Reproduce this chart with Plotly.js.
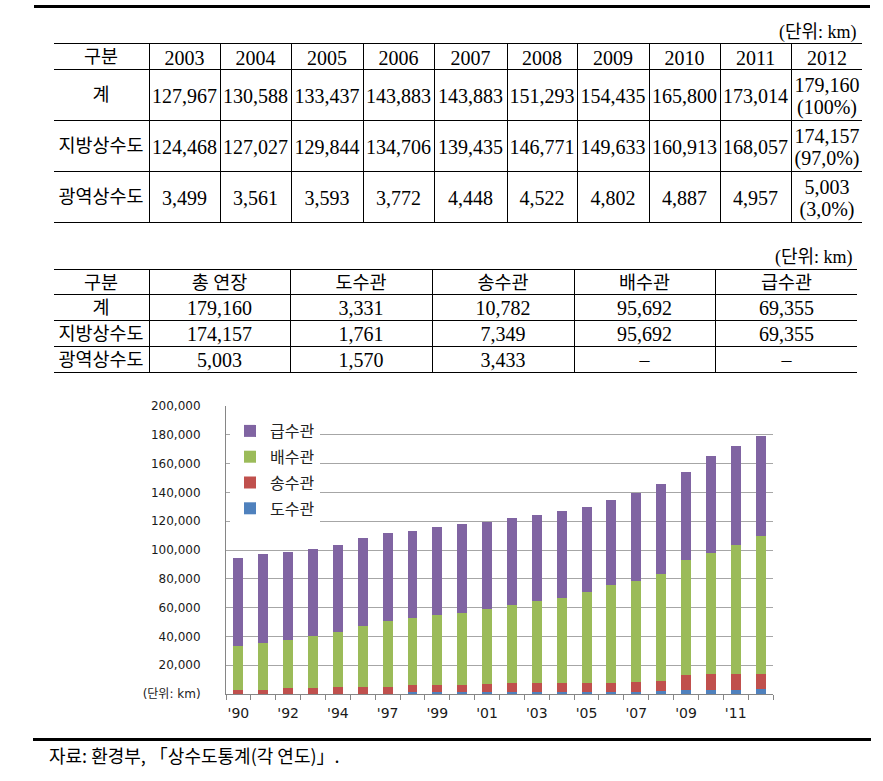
<!DOCTYPE html>
<html>
<head>
<meta charset="utf-8">
<script src="https://cdn.plot.ly/plotly-3.0.1.min.js"></script>
<style>
  html, body { margin: 0; padding: 0; background: #fff; }
  #chart { width: 883px; height: 781px; }
</style>
</head>
<body>
<div id="chart"></div>
<script>
// 표 1: 연도별 상수관로 연장 (단위: km)
const years1 = ['2003', '2004', '2005', '2006', '2007', '2008', '2009', '2010', '2011', '2012'];
const rowNames = ['계', '지방상수도', '광역상수도'];
const total1 = [127967, 130588, 133437, 143883, 143883, 151293, 154435, 165800, 173014, 179160];
const local1 = [124468, 127027, 129844, 134706, 139435, 146771, 149633, 160913, 168057, 174157];
const wide1 = [3499, 3561, 3593, 3772, 4448, 4522, 4802, 4887, 4957, 5003];
const share2012 = ['(100%)', '(97,0%)', '(3,0%)'];

// 표 2: 2012년 관종별 연장 (단위: km)
const pipes2 = ['총\u00a0연장', '도수관', '송수관', '배수관', '급수관'];
const total2 = [179160, 3331, 10782, 95692, 69355];
const local2 = [174157, 1761, 7349, 95692, 69355];
const wide2 = [5003, 1570, 3433, null, null];

// 그래프: 연도별 관종별 연장 (누적)
const years = ['1990', '1991', '1992', '1993', '1994', '1995', '1997', '1998', '1999', '2000', '2001',
               '2002', '2003', '2004', '2005', '2006', '2007', '2008', '2009', '2010', '2011', '2012'];
const yearLabels = ["'90", '', "'92", '', "'94", '', "'97", '', "'99", '', "'01",
                    '', "'03", '', "'05", '', "'07", '', "'09", '', "'11", ''];
const intake = [0, 0, 0, 0, 0, 0, 0, 1160, 1160, 1160, 1160,
                1160, 1160, 1160, 1160, 1160, 1160, 1850, 3010, 3010, 3010, 3331];
const transmission = [3100, 3100, 3940, 3940, 4630, 5100, 5100, 4880, 4880, 4860, 5560,
                      6250, 6250, 6250, 6250, 6720, 7180, 7190, 9960, 10660, 10660, 10782];
const distribution = [30400, 32260, 33510, 36300, 38400, 42120, 45370, 46530, 48620, 50050, 52130,
                      54220, 57000, 59090, 63720, 67650, 69970, 74370, 79940, 84110, 89670, 95692];
const service = [61150, 61640, 61400, 60710, 60710, 61400, 61180, 60940, 61410, 61870, 60940,
                 60470, 59780, 60470, 58620, 58850, 60940, 62560, 60940, 67650, 68810, 69355];
const yTicks = [0, 20000, 40000, 60000, 80000, 100000, 120000, 140000, 160000, 180000, 200000];

const W = 883, H = 781;
const fx = p => p / W;
const fy = p => 1 - p / H;
const fmt = n => (n == null ? '–' : n.toLocaleString('en-US'));
const clear = 'rgba(0,0,0,0)';
const tableFamily = 'Liberation Serif, Noto Sans CJK KR, serif';
const blank = n => Array(n).fill('');
// 첫 열(한글)은 조금 작게, 숫자 열은 크게
const sizes = (n, first, rest) => [first].concat(Array(n - 1).fill(rest));

// 표 한 장. kind: 'grid' = 선과 바탕, 'mask' = 흰 가림막, 'text' = 글자만
function tableTrace(x0, x1, top, widths, head, body, headH, rowH, kind, headSizes, cellSizes) {
  const fill = kind === 'text' ? clear : '#fff';
  const line = kind === 'grid' ? { color: '#000', width: 1 } : kind === 'mask' ? { color: '#fff', width: 1 } : { color: clear, width: 0 };
  return {
    type: 'table',
    domain: { x: [fx(x0), fx(x1)], y: [fy(top + 240), fy(top)] },
    columnwidth: widths,
    header: { values: head, height: headH, align: 'center', fill: { color: fill }, line: line,
              font: { family: tableFamily, size: headSizes || 18.5, color: '#000' } },
    cells: { values: body, height: rowH, align: 'center', fill: { color: fill }, line: line,
             font: { family: tableFamily, size: cellSizes || 18.5, color: '#000' } },
    hoverinfo: 'skip'
  };
}

const N = 15.5; // 셀 윗변에서 글자 중심까지 (plotly 기본 배치)

// 표 1
const w1 = [96, 71, 71, 72, 71, 73, 70, 72, 71, 71, 72];
const top1 = 43;
const s1 = sizes(11, 18.5, 20);
const body1 = [rowNames].concat(years1.slice(0, 9).map((_, i) => [fmt(total1[i]), fmt(local1[i]), fmt(wide1[i])]));
const grid1 = tableTrace(53, 863, top1, w1, blank(11), w1.map(() => blank(3)), 26, 51, 'grid');
const maskL1 = tableTrace(48, 54, top1, [1], [''], [blank(3)], 26, 51, 'mask');
const maskR1 = tableTrace(862, 868, top1, [1], [''], [blank(3)], 26, 51, 'mask');
const text1 = tableTrace(53, 863, top1 + 14 - N, w1, ['구분'].concat(years1),
                         body1.concat([blank(3)]), 38, 51, 'text', s1, s1);
const last1 = tableTrace(53, 863, top1 + 15.5 - N, w1, blank(11),
                         w1.slice(0, 10).map(() => blank(3)).concat([[fmt(total1[9]), fmt(local1[9]), fmt(wide1[9])]]),
                         26, 51, 'text', s1, s1);
const pct1 = tableTrace(53, 863, top1 + 37 - N, w1, blank(11),
                        w1.slice(0, 10).map(() => blank(3)).concat([share2012]), 26, 51, 'text', s1, s1);

// 표 2
const w2 = [96, 141, 142, 142, 141, 143];
const top2 = 269;
const body2 = [rowNames].concat(pipes2.map((_, i) => [fmt(total2[i]), fmt(local2[i]), fmt(wide2[i])]));
const grid2 = tableTrace(53, 858, top2, w2, blank(6), w2.map(() => blank(3)), 25, 26, 'grid');
const maskL2 = tableTrace(48, 54, top2, [1], [''], [blank(3)], 25, 26, 'mask');
const maskR2 = tableTrace(857, 863, top2, [1], [''], [blank(3)], 25, 26, 'mask');
const text2 = tableTrace(53, 858, top2 + 13.5 - N, w2, ['구분'].concat(pipes2), body2, 25, 26, 'text',
                         18.5, sizes(6, 18.5, 20));

// 누적 막대 (범례는 위에서부터 급수관, 배수관, 송수관, 도수관)
const series = [
  { name: '도수관', y: intake, color: '#4F81BD', rank: 4 },
  { name: '송수관', y: transmission, color: '#C0504D', rank: 3 },
  { name: '배수관', y: distribution, color: '#9BBB59', rank: 2 },
  { name: '급수관', y: service, color: '#8064A2', rank: 1 }
];
const bars = series.map(s => ({
  type: 'bar',
  x: years,
  y: s.y,
  name: s.name,
  legendgroup: s.name,
  legendrank: s.rank,
  marker: { color: s.color, line: { width: 0 } },
  hoverinfo: 'skip'
}));

const tickFont = { family: 'DejaVu Sans, Noto Sans CJK KR, sans-serif', size: 12, color: '#1a1a1a' };

const layout = {
  width: W,
  height: H,
  margin: { l: 0, r: 0, t: 0, b: 0 },
  paper_bgcolor: '#fff',
  plot_bgcolor: '#fff',
  barmode: 'stack',
  bargap: 0.6,
  showlegend: true,
  legend: {
    x: fx(230), y: fy(414), xanchor: 'left', yanchor: 'top',
    bgcolor: '#fff', borderwidth: 0,
    traceorder: 'grouped', tracegroupgap: 2,
    font: { family: 'Noto Sans CJK KR, sans-serif', size: 16, color: '#222' }
  },
  xaxis: {
    domain: [fx(226), fx(773)],
    type: 'category',
    tickvals: years,
    ticktext: yearLabels,
    tickangle: 0,
    ticks: 'outside', ticklen: 5, tickcolor: '#868686', tickson: 'boundaries',
    ticklabelstandoff: 6,
    showline: true, linecolor: '#868686', showgrid: false,
    tickfont: Object.assign({}, tickFont, { size: 14 }),
    fixedrange: true
  },
  yaxis: {
    domain: [fy(694), fy(406)],
    range: [0, 200000],
    tickvals: yTicks,
    ticktext: yTicks.map(v => (v === 0 ? '(단위: km)' : v.toLocaleString('en-US'))),
    showline: true, linecolor: '#868686',
    gridcolor: '#a6a6a6', zeroline: false,
    ticks: '', ticklabelstandoff: 22,
    tickfont: tickFont,
    fixedrange: true
  },
  shapes: [
    { type: 'line', xref: 'paper', yref: 'paper', x0: fx(34), x1: fx(870), y0: fy(6.5), y1: fy(6.5),
      line: { color: '#000', width: 3 } },
    { type: 'line', xref: 'paper', yref: 'paper', x0: fx(33), x1: fx(871), y0: fy(739.5), y1: fy(739.5),
      line: { color: '#000', width: 3 } }
  ],
  annotations: [
    { text: '(단위: km)', xref: 'paper', yref: 'paper', x: fx(859), y: fy(32), xanchor: 'right', yanchor: 'middle',
      showarrow: false, font: { family: tableFamily, size: 18, color: '#000' } },
    { text: '(단위: km)', xref: 'paper', yref: 'paper', x: fx(855), y: fy(257), xanchor: 'right', yanchor: 'middle',
      showarrow: false, font: { family: tableFamily, size: 18, color: '#000' } },
    { text: '자료: 환경부, 「상수도통계(각 연도)」.', xref: 'paper', yref: 'paper', x: fx(47), y: fy(755),
      xanchor: 'left', yanchor: 'middle', showarrow: false,
      font: { family: 'Noto Sans CJK KR, sans-serif', size: 18, color: '#000' } }
  ]
};

Plotly.newPlot('chart',
  [grid1, maskL1, maskR1, text1, last1, pct1, grid2, maskL2, maskR2, text2].concat(bars),
  layout, { displayModeBar: false, staticPlot: true });
</script>
</body>
</html>
